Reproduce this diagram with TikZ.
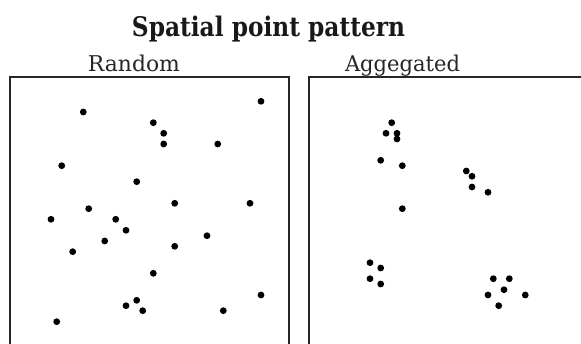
\documentclass[tikz,border=0pt]{standalone}
\usepackage{fontspec}
\setmainfont{DejaVu Serif}
\begin{document}
\begin{tikzpicture}[x=1pt,y=-1pt,
  dot/.style={fill=black},
  frame/.style={draw=black!85,line width=2pt},
  title/.style={anchor=base,inner sep=0pt,text=black!90},
  sub/.style={anchor=base,inner sep=0pt,text=black!85}]
\useasboundingbox (0,0) rectangle (581,344);
% frames
\draw[frame] (10,350) -- (10,77.5) -- (288.5,77.5) -- (288.5,350);
\draw[frame] (308.5,350) -- (308.5,77.5) -- (590,77.5);
% texts
\node[title] (t) at (268.5,36.7) {\resizebox{273pt}{20.5pt}{\bfseries Spatial point pattern}};
\node[sub] (r) at (134,72) {\resizebox{92pt}{16.5pt}{Random}};
\node[sub] (a) at (402.5,72) {\resizebox{115pt}{16.5pt}{Aggegated}};
% random points
\foreach \x/\y in {261/101.3, 83.3/112, 153.3/122.7, 163.7/133.3, 163.7/144,
  217.7/144, 61.7/165.7, 136.7/181.7, 174.7/203.3, 250/203.3, 88.7/208.7,
  51/219.3, 115.7/219.3, 126/230.3, 104.7/241, 207/235.7, 72.7/251.7,
  174.7/246.3, 153.3/273.3, 261/295, 136.7/300.3, 126/305.7, 142.7/310.7,
  223.3/310.7, 56.7/321.7}
  \fill[dot] (\x,\y) circle (3.4);
% aggregated points
\foreach \x/\y in {391.7/122.7, 386/133.3, 397/133.3, 397/139, 380.7/160.3,
  402.3/165.7, 466.3/171, 472/176.3, 472/187, 488/192.3, 402.3/208.7,
  370/262.7, 380.7/268, 370/278.7, 380.7/284, 493.3/278.7, 509.3/278.7,
  504/289.7, 488/295, 525.3/295, 498.7/305.7}
  \fill[dot] (\x,\y) circle (3.4);
\end{tikzpicture}
\end{document}
